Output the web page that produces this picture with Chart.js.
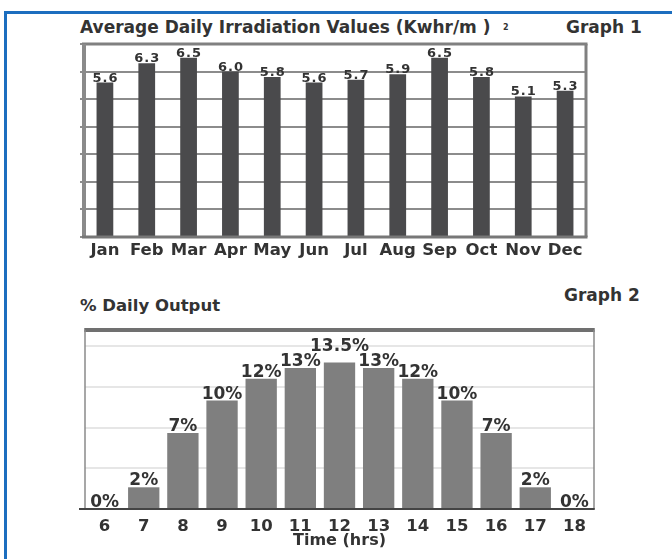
<!DOCTYPE html>
<html>
<head>
<meta charset="utf-8">
<script src="https://cdn.jsdelivr.net/npm/chart.js@4.4.1/dist/chart.umd.min.js"></script>
<style>
  body { margin: 0; background: #fff; width: 672px; height: 559px; overflow: hidden; position: relative; font-family: "DejaVu Sans", sans-serif; }
  .frame { position: absolute; left: 4px; top: 11px; width: 700px; height: 600px; border-left: 3px solid #1c6ebf; border-top: 3px solid #1c6ebf; }
  .txt { position: absolute; font-weight: bold; color: #333; white-space: nowrap; line-height: 1; }
  canvas { position: absolute; }
</style>
</head>
<body>
<div class="frame"></div>
<div class="txt" style="left:80px; top:19px; font-size:17px;">Average Daily Irradiation Values (Kwhr/m )</div>
<div class="txt" style="left:503px; top:24px; font-size:8px;">2</div>
<div class="txt" style="left:566px; top:19px; font-size:17px;">Graph 1</div>
<div class="txt" style="left:80px; top:298px; font-size:16.5px;">% Daily Output</div>
<div class="txt" style="left:564px; top:287px; font-size:17px;">Graph 2</div>
<canvas id="c1" width="540" height="236" style="left:66px; top:30px;"></canvas>
<canvas id="c2" width="540" height="241" style="left:66px; top:318px;"></canvas>
<script>
const months = ["Jan", "Feb", "Mar", "Apr", "May", "Jun", "Jul", "Aug", "Sep", "Oct", "Nov", "Dec"];
const irradiation = [5.6, 6.3, 6.5, 6.0, 5.8, 5.6, 5.7, 5.9, 6.5, 5.8, 5.1, 5.3];

const hours = ["6", "7", "8", "9", "10", "11", "12", "13", "14", "15", "16", "17", "18"];
const dailyOutput = [0, 2, 7, 10, 12, 13, 13.5, 13, 12, 10, 7, 2, 0];

const FONT = "DejaVu Sans";

// value labels above each bar
function valueLabels(format, size, spacing, gap, lift) {
  return {
    id: "valueLabels",
    afterDraw(chart) {
      const ctx = chart.ctx;
      const data = chart.data.datasets[0].data;
      const max = Math.max(...data);
      ctx.save();
      ctx.font = "bold " + size + "px " + FONT;
      ctx.letterSpacing = spacing + "px";
      ctx.fillStyle = "#333";
      ctx.textAlign = "center";
      ctx.textBaseline = "alphabetic";
      chart.getDatasetMeta(0).data.forEach((bar, i) => {
        const extra = (lift && data[i] === max) ? lift : 0;
        ctx.fillText(format(data[i]), bar.x + spacing / 2, bar.y - gap - extra);
      });
      ctx.restore();
    }
  };
}

// frame round the plot area
function frame(opts) {
  return {
    id: "frame",
    beforeDatasetsDraw(chart) {
      const a = chart.chartArea;
      const ctx = chart.ctx;
      ctx.save();
      const line = (c, w, x1, y1, x2, y2) => {
        ctx.strokeStyle = c; ctx.lineWidth = w;
        ctx.beginPath(); ctx.moveTo(x1, y1); ctx.lineTo(x2, y2); ctx.stroke();
      };
      line(opts.top[0], opts.top[1], a.left - opts.left[1] / 2, a.top, a.right + opts.right[1] / 2, a.top);
      line(opts.left[0], opts.left[1], a.left, a.top, a.left, a.bottom);
      line(opts.right[0], opts.right[1], a.right, a.top, a.right, a.bottom);
      ctx.restore();
    },
    afterDatasetsDraw(chart) {
      const a = chart.chartArea;
      const ctx = chart.ctx;
      ctx.save();
      ctx.strokeStyle = opts.bottom[0]; ctx.lineWidth = opts.bottom[1];
      ctx.beginPath();
      ctx.moveTo(a.left - opts.bottomExt, a.bottom);
      ctx.lineTo(a.right + opts.right[1] / 2, a.bottom);
      ctx.stroke();
      ctx.restore();
    }
  };
}

new Chart(document.getElementById("c1"), {
  type: "bar",
  data: {
    labels: months,
    datasets: [{ data: irradiation, backgroundColor: "#4a4a4c", categoryPercentage: 1, barPercentage: 0.4 }]
  },
  options: {
    responsive: false,
    animation: false,
    layout: { padding: { left: 18, right: 20, top: 14, bottom: 0 } },
    plugins: { legend: { display: false }, tooltip: { enabled: false } },
    scales: {
      x: {
        grid: { display: false },
        border: { display: false },
        ticks: { color: "#333", font: { family: FONT, weight: "bold", size: 16.5 }, padding: -4, maxRotation: 0, autoSkip: false },
        afterFit(s) { s.height = 29; }
      },
      y: {
        min: 0, max: 7,
        ticks: { display: false, stepSize: 1 },
        grid: { color: "#8c8c8c", lineWidth: 2, tickLength: 4 },
        border: { display: false },
        afterFit(s) { s.width = 0; }
      }
    }
  },
  plugins: [valueLabels(v => v.toFixed(1), 13, 1, 1, 0),
            frame({ top: ["#808080", 3], left: ["#8a8a8a", 4], right: ["#808080", 3], bottom: ["#777", 3], bottomExt: 2 })]
});

new Chart(document.getElementById("c2"), {
  type: "bar",
  data: {
    labels: hours,
    datasets: [{ data: dailyOutput, backgroundColor: "#7f7f7f", categoryPercentage: 1, barPercentage: 0.8 }]
  },
  options: {
    responsive: false,
    animation: false,
    layout: { padding: { left: 19, right: 12, top: 12, bottom: 0 } },
    plugins: { legend: { display: false }, tooltip: { enabled: false } },
    scales: {
      x: {
        grid: { display: false },
        border: { display: false },
        ticks: { color: "#333", font: { family: FONT, weight: "bold", size: 16.5 }, padding: 0, maxRotation: 0, autoSkip: false },
        title: { display: true, text: "Time (hrs)", color: "#333", font: { family: FONT, weight: "bold", size: 16 }, padding: { top: 0, bottom: 9 } },
        afterFit(s) { s.height = 50; }
      },
      y: {
        min: 0, max: 16.5,
        ticks: { display: false, stepSize: 3.75 },
        grid: { color: c => c.tick.value > 16 ? "transparent" : "#e6e6e6", lineWidth: 2, drawTicks: false },
        border: { display: false },
        afterFit(s) { s.width = 0; }
      }
    }
  },
  plugins: [valueLabels(v => v + "%", 17, 0, 2, 10),
            frame({ top: ["#707070", 4], left: ["#8a8a8a", 1.5], right: ["#8a8a8a", 1.5], bottom: ["#444", 2], bottomExt: 6 })]
});
</script>
</body>
</html>
